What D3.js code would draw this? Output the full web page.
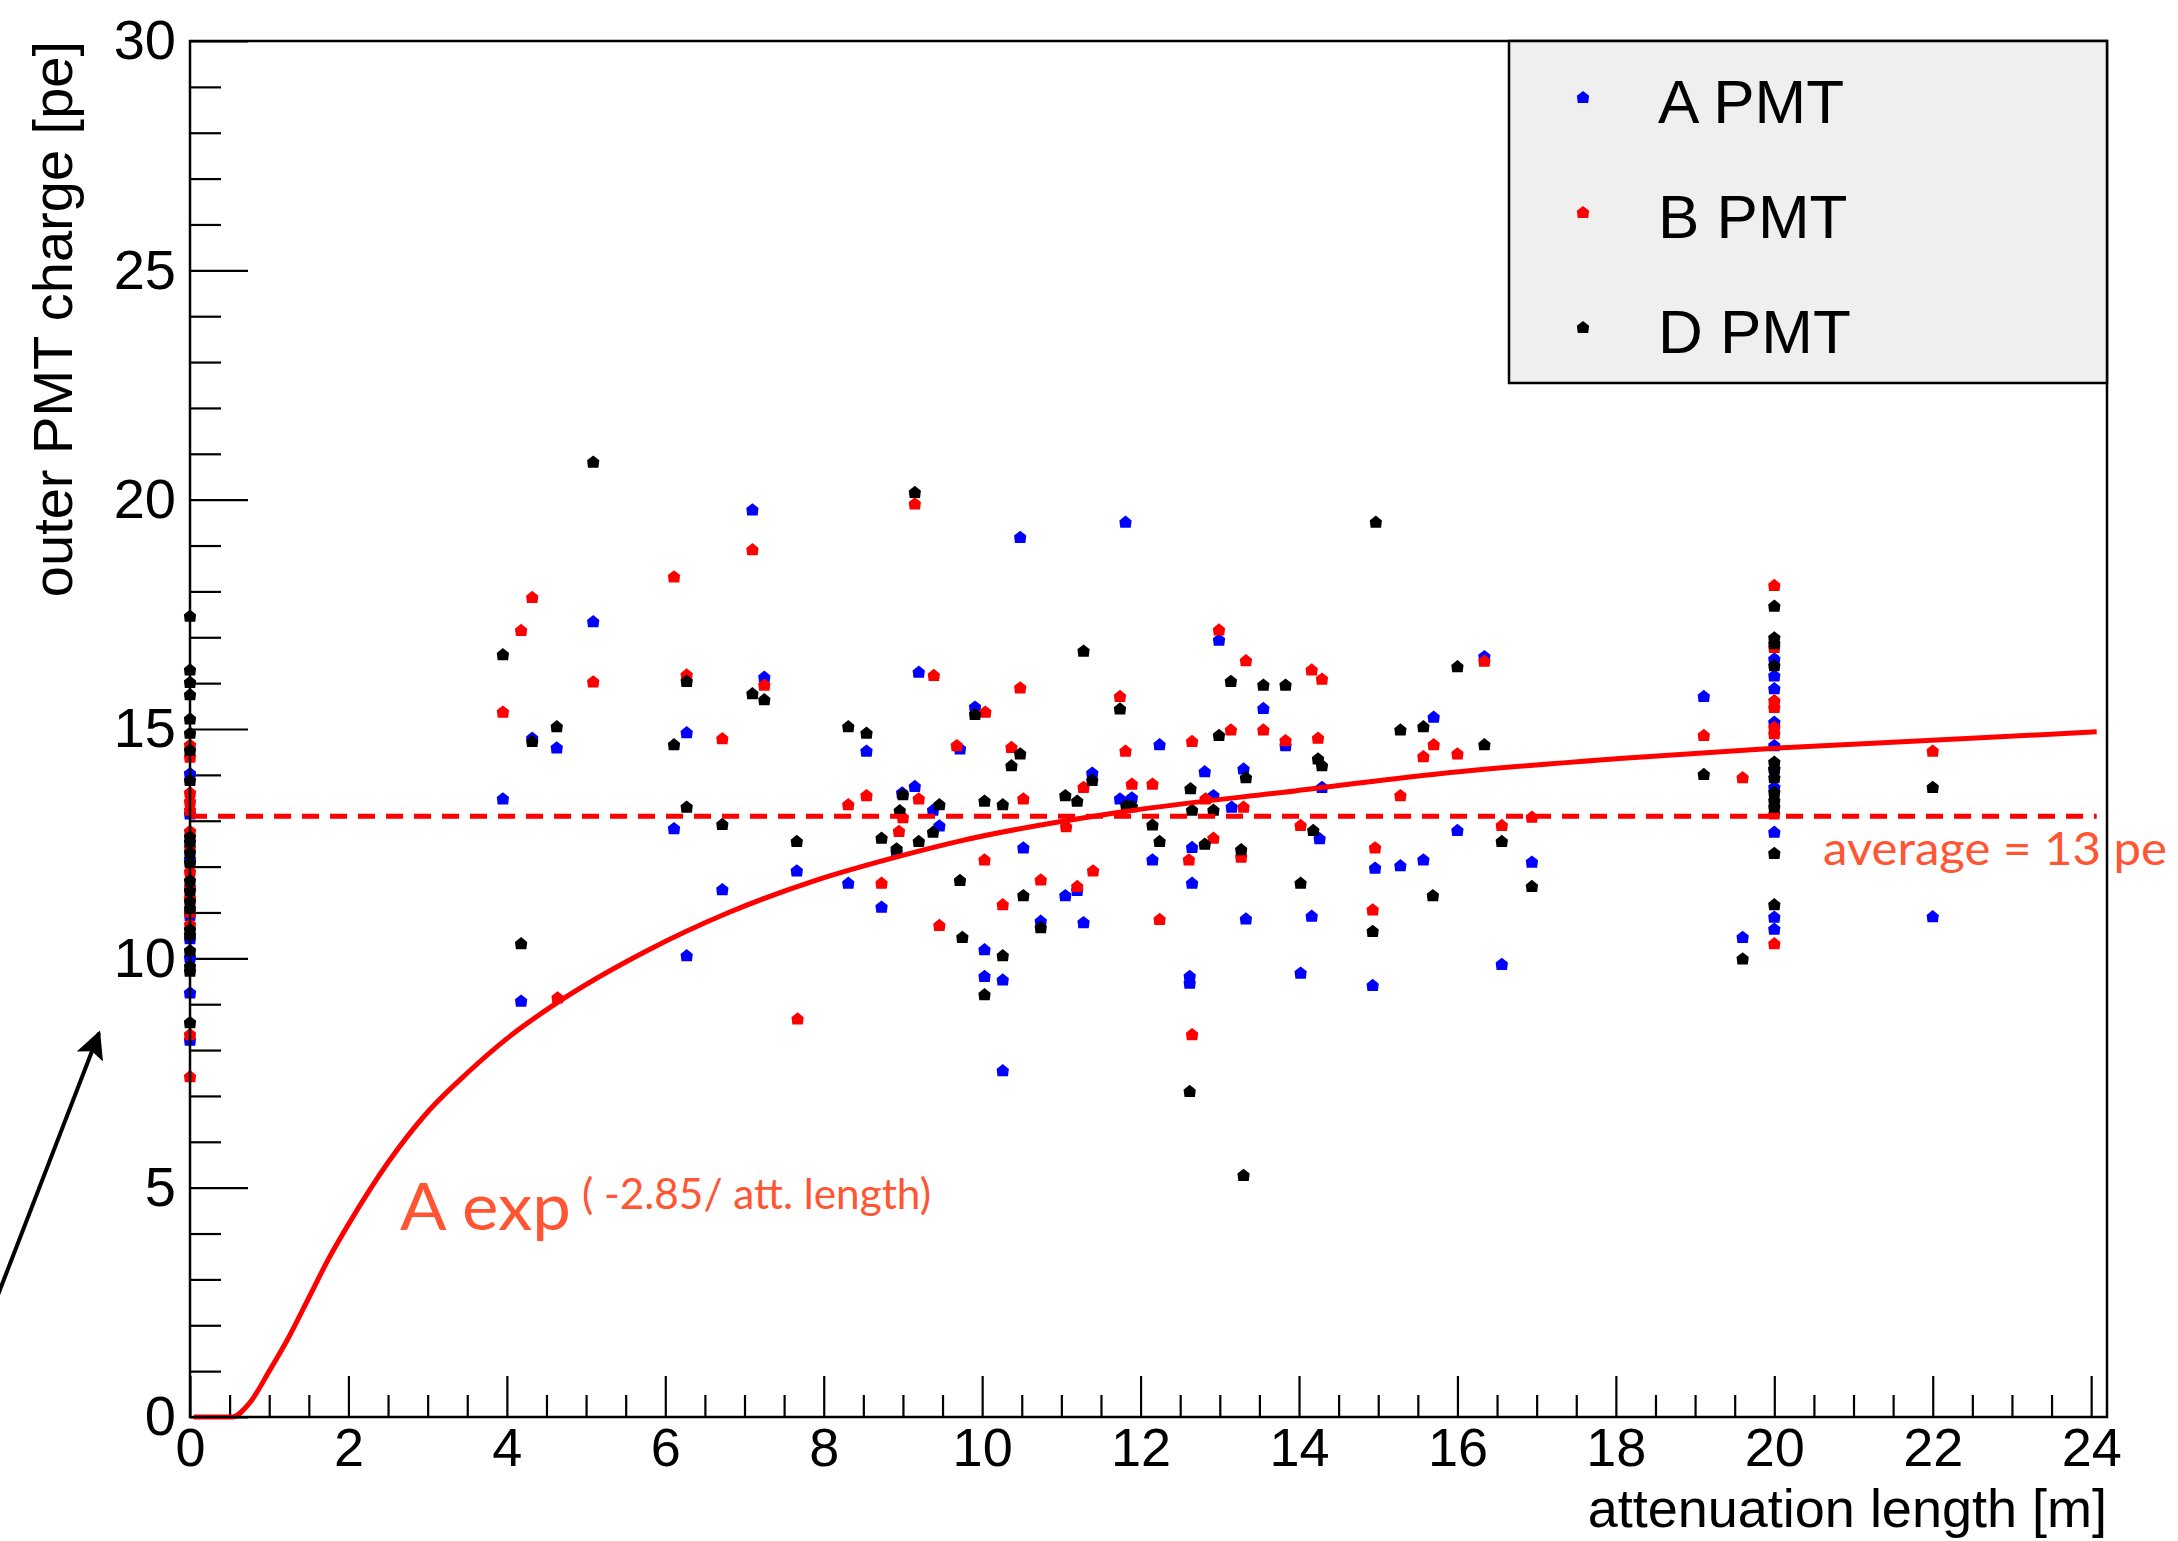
<!DOCTYPE html>
<html>
<head>
<meta charset="utf-8">
<script src="https://cdn.jsdelivr.net/npm/d3@7"></script>
<style>
  body { margin: 0; background: #fff; }
</style>
</head>
<body>
<div id="chart"></div>
<script>
// values
const zeroColA = [14.04, 13.16, 12.17, 10.95, 10.44, 10.03, 9.26, 8.23];
const zeroColB = [14.66, 14.40, 13.62, 13.43, 13.24, 12.78, 12.43, 11.90, 11.56, 11.33, 11.02, 10.75, 8.35, 7.43];
const zeroColD = [17.47, 16.30, 16.03, 15.76, 15.23, 14.92, 14.55, 13.89, 12.66, 12.55, 12.32, 12.10, 11.71, 11.49, 11.26, 11.10, 10.64, 10.52, 10.18, 9.84, 9.73, 8.61];

const twentyColA = [16.54, 16.17, 15.89, 15.16, 14.65, 14.14, 13.74, 12.76, 10.91, 10.65];
const twentyColB = [18.14, 16.79, 15.63, 15.48, 15.05, 14.91, 13.16, 10.33];
const twentyColD = [17.69, 17.0, 16.87, 16.39, 14.29, 14.14, 13.95, 13.63, 13.45, 13.31, 12.30, 11.18];

const pointsA = [
  [3.95, 13.49], [4.18, 9.08], [4.32, 14.81], [4.63, 14.60], [5.09, 17.35], [6.11, 12.84],
  [6.27, 14.93], [6.27, 10.07], [6.72, 11.51], [7.10, 19.79], [7.25, 16.14], [7.66, 11.92],
  [8.31, 11.65], [8.54, 14.53], [8.73, 11.13], [8.92, 12.33], [8.99, 13.62], [9.15, 13.76],
  [9.20, 16.25], [9.38, 13.24], [9.46, 12.90], [9.72, 14.58], [9.91, 15.49], [10.03, 10.20],
  [10.03, 9.62], [10.26, 9.54], [10.26, 7.56], [10.48, 19.19], [10.52, 12.42], [10.74, 10.82],
  [11.05, 11.38], [11.20, 11.49], [11.28, 10.79], [11.39, 14.05], [11.74, 13.49], [11.81, 19.52],
  [11.89, 13.51], [12.15, 12.16], [12.24, 14.67], [12.62, 9.62], [12.62, 9.47], [12.65, 12.43],
  [12.65, 11.65], [12.81, 14.08], [12.92, 13.56], [12.99, 16.95], [13.15, 13.31], [13.30, 14.14],
  [13.33, 10.87], [13.55, 15.46], [13.83, 14.65], [14.02, 9.69], [14.16, 10.93], [14.26, 12.62],
  [14.29, 13.74], [14.93, 9.42], [14.96, 11.98], [15.28, 12.03], [15.57, 12.16], [15.70, 15.27],
  [16.0, 12.8], [16.34, 16.59], [16.56, 9.88], [16.94, 12.11], [19.11, 15.72], [19.60, 10.47],
  [22.0, 10.92]
];
const pointsB = [
  [3.95, 15.38], [4.18, 17.16], [4.32, 17.88], [4.64, 9.15], [5.09, 16.04], [6.11, 18.33],
  [6.27, 16.19], [6.72, 14.80], [7.10, 18.92], [7.25, 15.97], [7.67, 8.69], [8.31, 13.36],
  [8.54, 13.56], [8.73, 11.65], [8.95, 12.78], [9.0, 13.08], [9.15, 19.92], [9.20, 13.49],
  [9.39, 16.18], [9.46, 10.73], [9.68, 14.65], [10.03, 12.16], [10.04, 15.38], [10.26, 11.18],
  [10.37, 14.61], [10.48, 15.91], [10.52, 13.49], [10.74, 11.72], [11.06, 12.88], [11.20, 11.58],
  [11.28, 13.74], [11.40, 11.92], [11.74, 15.72], [11.81, 14.53], [11.89, 13.81], [12.15, 13.81],
  [12.24, 10.86], [12.61, 12.16], [12.65, 14.74], [12.65, 8.35], [12.82, 13.49], [12.92, 12.63],
  [12.99, 17.17], [13.14, 14.99], [13.27, 12.22], [13.30, 13.31], [13.33, 16.50], [13.55, 14.99],
  [13.83, 14.76], [14.02, 12.91], [14.16, 16.30], [14.24, 14.81], [14.29, 16.10], [14.93, 11.07],
  [14.96, 12.42], [15.28, 13.56], [15.57, 14.41], [15.70, 14.67], [16.0, 14.47], [16.34, 16.49],
  [16.56, 12.91], [16.94, 13.09], [19.11, 14.87], [19.60, 13.95], [22.0, 14.53]
];
const pointsD = [
  [3.95, 16.63], [4.18, 10.33], [4.32, 14.74], [4.63, 15.06], [5.09, 20.83], [6.11, 14.67],
  [6.27, 16.05], [6.27, 13.31], [6.72, 12.93], [7.10, 15.78], [7.25, 15.65], [7.66, 12.56],
  [8.31, 15.06], [8.54, 14.92], [8.73, 12.63], [8.92, 12.40], [8.96, 13.23], [9.0, 13.58],
  [9.15, 20.17], [9.20, 12.56], [9.38, 12.76], [9.46, 13.36], [9.72, 11.71], [9.75, 10.47],
  [9.91, 15.33], [10.03, 13.44], [10.03, 9.22], [10.26, 13.36], [10.26, 10.07], [10.37, 14.21],
  [10.48, 14.47], [10.52, 11.38], [10.74, 10.68], [11.05, 13.56], [11.20, 13.44], [11.28, 16.71],
  [11.39, 13.89], [11.74, 15.45], [11.82, 13.34], [11.89, 13.32], [12.15, 12.92], [12.24, 12.56],
  [12.62, 7.11], [12.63, 13.71], [12.65, 13.24], [12.81, 12.50], [12.92, 13.24], [12.99, 14.87],
  [13.14, 16.05], [13.27, 12.38], [13.30, 5.28], [13.33, 13.95], [13.55, 15.97], [13.83, 15.97],
  [14.02, 11.65], [14.18, 12.80], [14.24, 14.36], [14.29, 14.21], [14.93, 10.60], [14.97, 19.52],
  [15.28, 14.99], [15.57, 15.06], [15.69, 11.38], [16.0, 16.37], [16.34, 14.67], [16.56, 12.56],
  [16.94, 11.58], [19.11, 14.02], [19.60, 10.0], [22.0, 13.74]
];

// fitted curve
const fitCurve = [
  [0.05, 0], [0.53, 0], [0.75, 0.3], [1.0, 1.0], [1.25, 1.75], [1.5, 2.6], [1.75, 3.45],
  [2.0, 4.2], [2.5, 5.55], [3.0, 6.65], [3.5, 7.5], [4.0, 8.25], [4.65, 9.05], [5.75, 10.15],
  [6.8, 11.0], [7.9, 11.7], [8.9, 12.2], [9.7, 12.55], [11.8, 13.2], [13.95, 13.65],
  [15.8, 14.03], [18.0, 14.35], [20.0, 14.58], [22.3, 14.78], [24.07, 14.94]
];
const averageLine = [[0, 13.1], [24.07, 13.1]];

const xMajor = [0, 2, 4, 6, 8, 10, 12, 14, 16, 18, 20, 22, 24];
const yMajor = [0, 5, 10, 15, 20, 25, 30];

const seriesNames = ["A PMT", "B PMT", "D PMT"];
const seriesColors = ["#0000ff", "#ff0000", "#000000"];

// Setup
const W = 2178, H = 1541;
const plotL = 190, plotR = 2107, plotT = 41, plotB = 1417;
const axisFont = "'Liberation Sans', Arial, Helvetica, sans-serif";
const noteFont = "Lato, 'Open Sans', sans-serif";
const noteColor = "#ff5533";

const x = d3.scaleLinear().domain([0, 24.2]).range([plotL, plotR]);
const y = d3.scaleLinear().domain([0, 30]).range([plotB, plotT]);

const svg = d3.select("#chart").append("svg")
  .attr("width", W)
  .attr("height", H)
  .style("display", "block");

svg.append("rect").attr("width", W).attr("height", H).attr("fill", "#fff");

// build series
const withX = (xv, ys) => ys.map(v => [xv, v]);
const series = [
  pointsA.concat(withX(0, zeroColA), withX(20, twentyColA)),
  pointsB.concat(withX(0, zeroColB), withX(20, twentyColB)),
  pointsD.concat(withX(0, zeroColD), withX(20, twentyColD))
];

// ROOT-ish marker
const markerShape = {
  draw(ctx, size) {
    const r = Math.sqrt(size) / 2;
    ctx.moveTo(0, -r);
    ctx.lineTo(r, -r * 0.2);
    ctx.lineTo(r * 0.85, r);
    ctx.lineTo(-r * 0.85, r);
    ctx.lineTo(-r, -r * 0.2);
    ctx.closePath();
  }
};
const marker = d3.symbol().type(markerShape).size(150);

// axes
const yMinor = d3.range(0, 31, 1).filter(v => v % 5 !== 0);
const xMinor = d3.range(0, 24.01, 0.5).filter(v => v % 2 !== 0);

const yAxisMinor = svg.append("g")
  .attr("transform", `translate(${plotL},0)`)
  .call(d3.axisLeft(y).tickValues(yMinor).tickSize(-31).tickFormat(""));
const yAxis = svg.append("g")
  .attr("transform", `translate(${plotL},0)`)
  .call(d3.axisLeft(y).tickValues(yMajor).tickSize(-58).tickPadding(14).tickFormat(d3.format("d")));
const xAxisMinor = svg.append("g")
  .attr("transform", `translate(0,${plotB})`)
  .call(d3.axisBottom(x).tickValues(xMinor).tickSize(-22).tickFormat(""));
const xAxis = svg.append("g")
  .attr("transform", `translate(0,${plotB})`)
  .call(d3.axisBottom(x).tickValues(xMajor).tickSize(-41).tickPadding(11).tickFormat(d3.format("d")));

[yAxisMinor, yAxis, xAxisMinor, xAxis].forEach(g => {
  g.select(".domain").remove();
  g.selectAll("line").attr("stroke", "#000").attr("stroke-width", 2.2);
  g.selectAll("text")
    .attr("font-family", axisFont)
    .attr("font-size", 56)
    .attr("fill", "#000");
});
xAxis.selectAll("text").attr("font-size", 54);

// axis titles
svg.append("text")
  .attr("transform", `translate(72,${plotT}) rotate(-90)`)
  .attr("text-anchor", "end")
  .attr("font-family", axisFont)
  .attr("font-size", 56)
  .text("outer PMT charge [pe]");

svg.append("text")
  .attr("x", plotR)
  .attr("y", 1527)
  .attr("text-anchor", "end")
  .attr("font-family", axisFont)
  .attr("font-size", 54)
  .text("attenuation length [m]");

// points
series.forEach((pts, i) => {
  svg.append("g")
    .selectAll("path")
    .data(pts)
    .enter()
    .append("path")
    .attr("d", marker)
    .attr("transform", d => `translate(${x(d[0])},${y(d[1])})`)
    .attr("fill", seriesColors[i]);
});

// fit and average
svg.append("path")
  .datum(fitCurve)
  .attr("d", d3.line().x(d => x(d[0])).y(d => y(d[1])).curve(d3.curveMonotoneX))
  .attr("fill", "none")
  .attr("stroke", "#ff0000")
  .attr("stroke-width", 5);

svg.append("path")
  .datum(averageLine)
  .attr("d", d3.line().x(d => x(d[0])).y(d => y(d[1])))
  .attr("fill", "none")
  .attr("stroke", "#ff0000")
  .attr("stroke-width", 5)
  .attr("stroke-dasharray", "17,11");

// frame
svg.append("rect")
  .attr("x", plotL)
  .attr("y", plotT)
  .attr("width", plotR - plotL)
  .attr("height", plotB - plotT)
  .attr("fill", "none")
  .attr("stroke", "#000")
  .attr("stroke-width", 2.5);

// legend
const legend = svg.append("g");
legend.append("rect")
  .attr("x", 1509)
  .attr("y", plotT)
  .attr("width", plotR - 1509)
  .attr("height", 383 - plotT)
  .attr("fill", "#efefef")
  .attr("stroke", "#000")
  .attr("stroke-width", 2.5);

seriesNames.forEach((name, i) => {
  const cy = 97 + i * 115;
  legend.append("path")
    .attr("d", marker)
    .attr("transform", `translate(1583,${cy})`)
    .attr("fill", seriesColors[i]);
  legend.append("text")
    .attr("x", 1658)
    .attr("y", cy + 26)
    .attr("font-family", axisFont)
    .attr("font-size", 62)
    .text(name);
});

// annotations
svg.append("text")
  .attr("x", 1823)
  .attr("y", 865)
  .attr("font-family", noteFont)
  .attr("font-size", 46)
  .attr("fill", noteColor)
  .attr("textLength", 344)
  .attr("lengthAdjust", "spacingAndGlyphs")
  .text("average = 13 pe");

svg.append("text")
  .attr("x", 400)
  .attr("y", 1230)
  .attr("font-family", noteFont)
  .attr("font-size", 66)
  .attr("fill", noteColor)
  .attr("textLength", 171)
  .attr("lengthAdjust", "spacingAndGlyphs")
  .text("A exp");

svg.append("text")
  .attr("x", 582)
  .attr("y", 1209)
  .attr("font-family", noteFont)
  .attr("font-size", 42)
  .attr("fill", noteColor)
  .attr("textLength", 349)
  .attr("lengthAdjust", "spacingAndGlyphs")
  .text("( -2.85/ att. length)");

// arrow
svg.append("defs").append("marker")
  .attr("id", "arrowhead")
  .attr("viewBox", "0 0 10 10")
  .attr("refX", 9)
  .attr("refY", 5)
  .attr("markerWidth", 7)
  .attr("markerHeight", 7)
  .attr("markerUnits", "strokeWidth")
  .attr("orient", "auto")
  .append("path")
  .attr("d", "M0,0L10,5L0,10L2,5z")
  .attr("fill", "#000");

svg.append("line")
  .attr("x1", -4)
  .attr("y1", 1300)
  .attr("x2", 99)
  .attr("y2", 1033)
  .attr("stroke", "#000")
  .attr("stroke-width", 4)
  .attr("marker-end", "url(#arrowhead)");
</script>
</body>
</html>
